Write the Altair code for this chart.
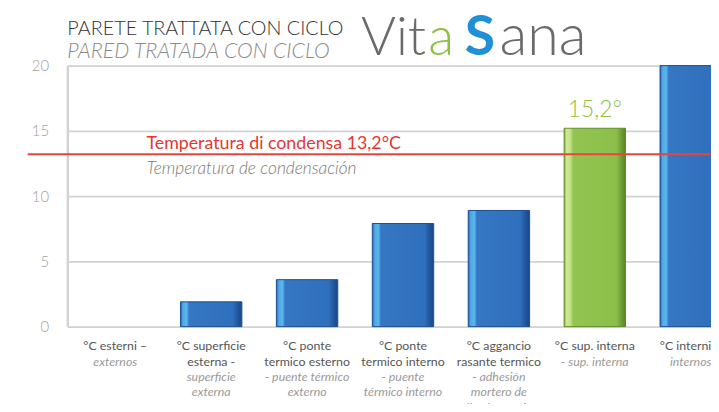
import altair as alt
import pandas as pd

# ---------------- data ----------------
categories = ["esterni", "sup_esterna", "ponte_esterno", "ponte_interno",
              "aggancio", "sup_interna", "interni"]
values = [0.0, 1.9, 3.6, 7.9, 8.9, 15.2, 20.0]
labels_it = [["°C esterni –"], ["°C superficie", "esterna -"], ["°C ponte", "termico esterno"],
             ["°C ponte", "termico interno"], ["°C aggancio", "rasante termico"],
             ["°C sup. interna"], ["°C interni –"]]
labels_es = [["externos"], ["superficie", "externa"], ["- puente térmico", "externo"],
             ["- puente", "térmico interno"], ["- adhesión", "mortero de", "alisado térmico"],
             ["- sup. interna"], ["internos"]]
highlight = "sup_interna"
condensa = 13.2
y_ticks = [0, 5, 10, 15, 20]
title_it = "PARETE TRATTATA CON CICLO"
title_es = "PARED TRATADA CON CICLO"
cond_it = "Temperatura di condensa"
cond_es = "Temperatura de condensación"
logo_parts = ["Vit", "a", "S", "ana"]

# ---------------- layout ----------------
W, H = 651, 264
STEP = 97
FONT = "Lato"
LINE_H = 15.5


def fmt(v):
    return f"{v:.1f}".replace(".", ",")


df = pd.DataFrame({
    "cat": categories,
    "v": values,
    "lab": [fmt(v) + "°" for v in values],
})

# one row per label line
rows = []
for c, it, es in zip(categories, labels_it, labels_es):
    for i, t in enumerate(it):
        rows.append({"cat": c, "line": i, "style": "it", "t": t})
    for j, t in enumerate(es):
        rows.append({"cat": c, "line": len(it) + j, "style": "es", "t": t})
lab_df = pd.DataFrame(rows)

cond_df = pd.DataFrame({"v": [condensa],
                        "t1": [f"{cond_it} {fmt(condensa)}°C"],
                        "t2": [cond_es]})

x_enc = alt.X("cat:N", sort=categories, axis=None,
              scale=alt.Scale(domain=categories, range=[0, 7 * STEP],
                              paddingInner=0.36, paddingOuter=0.18))
y_enc = alt.Y("v:Q", title=None,
              scale=alt.Scale(domain=[0, 20], nice=False, zero=True),
              axis=alt.Axis(values=y_ticks, grid=True, gridColor="#d3d3d3", gridWidth=1.6,
                            domain=True, domainColor="#d3d3d3", domainWidth=2.5,
                            ticks=False, labelPadding=19, labelFontSize=15,
                            labelColor="#a0a0a0", labelFont=FONT, labelFontWeight=300,
                            title=None))

blue_grad = alt.LinearGradient(
    gradient="linear", x1=0, x2=1, y1=0, y2=0,
    stops=[alt.GradientStop(offset=0, color="#2a62ab"),
           alt.GradientStop(offset=0.04, color="#4fa9e6"),
           alt.GradientStop(offset=0.1, color="#5bb6ee"),
           alt.GradientStop(offset=0.14, color="#3677c4"),
           alt.GradientStop(offset=0.85, color="#2f6fbb"),
           alt.GradientStop(offset=0.94, color="#1f5599"),
           alt.GradientStop(offset=1, color="#184784")])
green_grad = alt.LinearGradient(
    gradient="linear", x1=0, x2=1, y1=0, y2=0,
    stops=[alt.GradientStop(offset=0, color="#7fae3c"),
           alt.GradientStop(offset=0.04, color="#cfe896"),
           alt.GradientStop(offset=0.1, color="#c4e285"),
           alt.GradientStop(offset=0.15, color="#93c452"),
           alt.GradientStop(offset=0.85, color="#8cbf4a"),
           alt.GradientStop(offset=0.94, color="#6c9a30"),
           alt.GradientStop(offset=1, color="#5a8426")])

base = alt.Chart(df)

blue_bars = base.transform_filter(
    (alt.datum.cat != highlight) & (alt.datum.v > 0)).mark_bar(
    color=blue_grad, stroke="#1d4f90", strokeWidth=1).encode(x=x_enc, y=y_enc)
green_bar = base.transform_filter(alt.datum.cat == highlight).mark_bar(
    color=green_grad, stroke="#5f8c2a", strokeWidth=1).encode(x=x_enc, y=y_enc)
green_label = base.transform_filter(alt.datum.cat == highlight).mark_text(
    baseline="alphabetic", dy=-11, fontSize=23, font=FONT, fontWeight=300,
    color="#8dc043").encode(x=x_enc, y=y_enc, text="lab:N")

rule = alt.Chart(cond_df).mark_rule(color="#e8453c", strokeWidth=2).encode(
    y=y_enc, x=alt.value(-40), x2=alt.value(W))
cond_t1 = alt.Chart(cond_df).mark_text(
    align="left", baseline="alphabetic", dy=-5, fontSize=18, font=FONT, color="#e5372f").encode(
    y=y_enc, x=alt.value(80), text="t1:N")
cond_t2 = alt.Chart(cond_df).mark_text(
    align="left", baseline="alphabetic", dy=20, fontSize=17.5, font=FONT, fontStyle="italic",
    fontWeight=300, color="#7a7a7a").encode(y=y_enc, x=alt.value(80), text="t2:N")

label_layers = []
n_lines = int(lab_df["line"].max()) + 1
for i in range(n_lines):
    for style in ["it", "es"]:
        label_layers.append(
            alt.Chart(lab_df).transform_filter(
                (alt.datum.line == i) & (alt.datum.style == style)).mark_text(
                baseline="middle", fontSize=12.5, font=FONT,
                fontStyle=("normal" if style == "it" else "italic"),
                color=("#555555" if style == "it" else "#9a9a9a")).encode(
                x=x_enc, y=alt.value(H + 20 + LINE_H * i), text="t:N"))

tdf = pd.DataFrame({"a": [title_it], "b": [title_es]})
t_it = alt.Chart(tdf).mark_text(align="left", baseline="alphabetic", fontSize=20, font=FONT,
                                fontWeight=300, color="#333333").encode(
    x=alt.value(0), y=alt.value(-31), text="a:N")
t_es = alt.Chart(tdf).mark_text(align="left", baseline="alphabetic", fontSize=21.5, font=FONT,
                                fontWeight=300, fontStyle="italic", color="#8a8a8a").encode(
    x=alt.value(0), y=alt.value(-8), text="b:N")

ldf = pd.DataFrame({"p": logo_parts})
logo_x = [297, 365, 402, 437]
logo_size = [54, 54, 56, 58]
logo_col = ["#6a6a6a", "#8dc043", "#1f8fd6", "#6a6a6a"]
logo_layers = []
for part, lx, ls, lc in zip(logo_parts, logo_x, logo_size, logo_col):
    logo_layers.append(
        alt.Chart(ldf).transform_filter(alt.datum.p == part).mark_text(
            align="left", baseline="alphabetic", fontSize=ls, font=FONT,
            fontWeight=(700 if part == "S" else 300), color=lc).encode(
            x=alt.value(lx), y=alt.value(-11), text="p:N"))

chart = alt.layer(blue_bars, green_bar, green_label, rule, cond_t1, cond_t2,
                  *label_layers, t_it, t_es, *logo_layers).properties(
    width=W, height=H,
    autosize=alt.AutoSizeParams(type="none"),
    padding={"left": 60, "top": 56, "right": 0, "bottom": 76},
).configure_view(stroke=None).configure(background="white")

chart.save("out.html", embed_options={"renderer": "svg", "actions": False})
